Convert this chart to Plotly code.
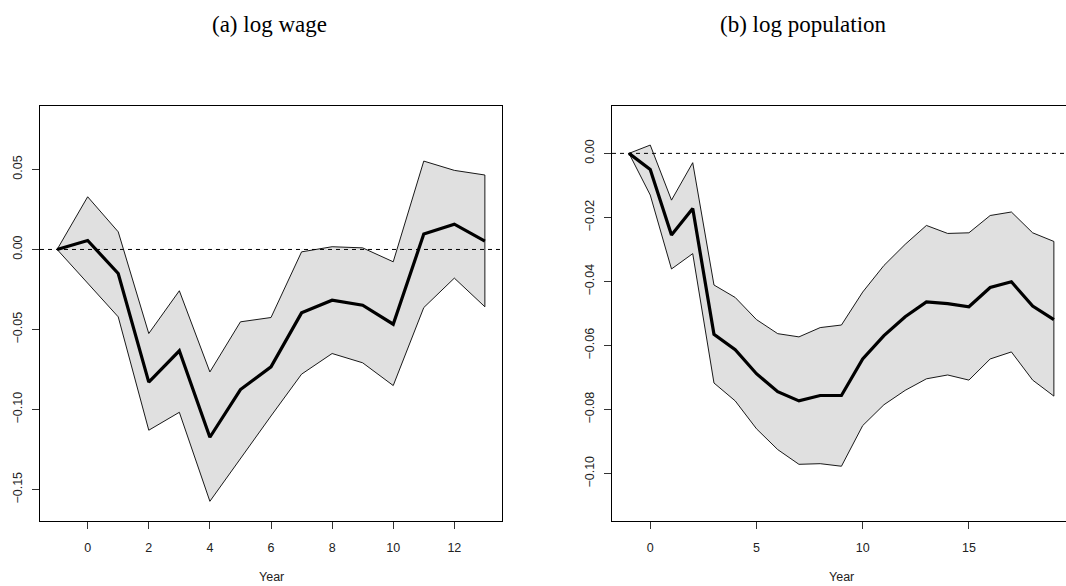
import plotly.graph_objects as go

# ---------------- data ----------------
wage_year = [-1, 0, 1, 2, 3, 4, 5, 6, 7, 8, 9, 10, 11, 12, 13]
wage_est = [0.0, 0.0056, -0.0150, -0.0829, -0.0633, -0.1173, -0.0875, -0.0733,
            -0.0396, -0.0317, -0.0348, -0.0467, 0.0096, 0.0158, 0.0052]
wage_upper = [0.0, 0.0329, 0.0110, -0.0525, -0.0258, -0.0765, -0.0452, -0.0425,
              -0.0015, 0.0017, 0.0010, -0.0077, 0.0552, 0.0494, 0.0465]
wage_lower = [0.0, -0.0210, -0.0421, -0.1129, -0.1017, -0.1573, -0.1310, -0.1040,
              -0.0779, -0.0650, -0.0708, -0.0850, -0.0363, -0.0179, -0.0358]

pop_year = list(range(-1, 20))
pop_est = [0.0, -0.0050, -0.0255, -0.0172, -0.0565, -0.0613, -0.0688, -0.0744,
           -0.0773, -0.0756, -0.0756, -0.0642, -0.0569, -0.0510, -0.0464,
           -0.0469, -0.0479, -0.0419, -0.0401, -0.0477, -0.0519]
pop_upper = [0.0, 0.0026, -0.0146, -0.0029, -0.0411, -0.0450, -0.0519, -0.0563,
             -0.0573, -0.0544, -0.0536, -0.0433, -0.0350, -0.0284, -0.0225,
             -0.0250, -0.0248, -0.0194, -0.0183, -0.0248, -0.0275]
pop_lower = [0.0, -0.0130, -0.0361, -0.0313, -0.0717, -0.0773, -0.0860, -0.0925,
             -0.0971, -0.0969, -0.0977, -0.0850, -0.0785, -0.0740, -0.0704,
             -0.0692, -0.0708, -0.0642, -0.0620, -0.0708, -0.0758]

wage_xticks = [0, 2, 4, 6, 8, 10, 12]
wage_yticks = [-0.15, -0.10, -0.05, 0.00, 0.05]
pop_xticks = [0, 5, 10, 15]
pop_yticks = [-0.10, -0.08, -0.06, -0.04, -0.02, 0.00]

titles = ["(a) log wage", "(b) log population"]
xlabel = "Year"

# ---------------- layout helpers ----------------
W, H = 1066, 586
wage_xrange = [-1.56, 13.56]
wage_yrange = [-0.1696, 0.0896]
pop_xrange = [-1.8, 19.57]
pop_yrange = [-0.1148, 0.0148]

BAND_FILL = "#E0E0E0"
TICK_FONT = dict(family="Liberation Sans, Arial, sans-serif", size=12.5, color="#222222")

fig = go.Figure()


def add_panel(xs, est, up, lo, xa, ya, xrange_):
    fig.add_trace(go.Scatter(
        x=xs + xs[::-1], y=up + lo[::-1], fill="toself", fillcolor=BAND_FILL,
        mode="lines", line=dict(color="black", width=0.9),
        xaxis=xa, yaxis=ya, showlegend=False, hoverinfo="skip"))
    fig.add_trace(go.Scatter(
        x=xrange_, y=[0, 0], mode="lines",
        line=dict(color="black", width=1, dash="4px,4px"),
        xaxis=xa, yaxis=ya, showlegend=False, hoverinfo="skip"))
    fig.add_trace(go.Scatter(
        x=xs, y=est, mode="lines", line=dict(color="black", width=3.2),
        xaxis=xa, yaxis=ya, showlegend=False))


add_panel(wage_year, wage_est, wage_upper, wage_lower, "x", "y", wage_xrange)
add_panel(pop_year, pop_est, pop_upper, pop_lower, "x2", "y2", pop_xrange)

ydom = [(H - 521) / H, (H - 106) / H]

axis_common = dict(showgrid=False, zeroline=False, ticks="outside", ticklen=7,
                   tickwidth=1, tickcolor="#333333", tickfont=TICK_FONT,
                   showline=True, linecolor="black", linewidth=1)

fig.update_layout(
    width=W, height=H,
    margin=dict(l=0, r=0, t=0, b=0),
    paper_bgcolor="white", plot_bgcolor="white",
    xaxis=dict(domain=[40 / W, 502 / W], range=wage_xrange, tickvals=wage_xticks,
               mirror=True, anchor="y", ticklabelstandoff=8, **axis_common),
    yaxis=dict(domain=ydom, range=wage_yrange, tickvals=wage_yticks,
               tickformat=".2f", tickangle=-90, mirror=True, anchor="x",
               ticklabelstandoff=5, **axis_common),
    xaxis2=dict(domain=[612 / W, 1.0], range=pop_xrange, tickvals=pop_xticks,
                mirror=True, anchor="y2", ticklabelstandoff=8, **axis_common),
    yaxis2=dict(domain=ydom, range=pop_yrange, tickvals=pop_yticks,
                tickformat=".2f", tickangle=-90, mirror=False, anchor="x2",
                ticklabelstandoff=5, **axis_common),
)

annotations = [
    dict(text=titles[0], x=269 / W, y=(H - 24) / H, xref="paper", yref="paper",
         showarrow=False, xanchor="center", yanchor="middle",
         font=dict(family="Liberation Serif, DejaVu Serif, serif", size=23, color="black")),
    dict(text=titles[1], x=803 / W, y=(H - 24) / H, xref="paper", yref="paper",
         showarrow=False, xanchor="center", yanchor="middle",
         font=dict(family="Liberation Serif, DejaVu Serif, serif", size=23, color="black")),
    dict(text=xlabel, x=6, xref="x", y=(H - 577) / H, yref="paper", showarrow=False,
         xanchor="center", yanchor="middle", font=TICK_FONT),
    dict(text=xlabel, x=9, xref="x2", y=(H - 577) / H, yref="paper", showarrow=False,
         xanchor="center", yanchor="middle", font=TICK_FONT),
]
fig.update_layout(annotations=annotations)

fig.write_html("out.html")
